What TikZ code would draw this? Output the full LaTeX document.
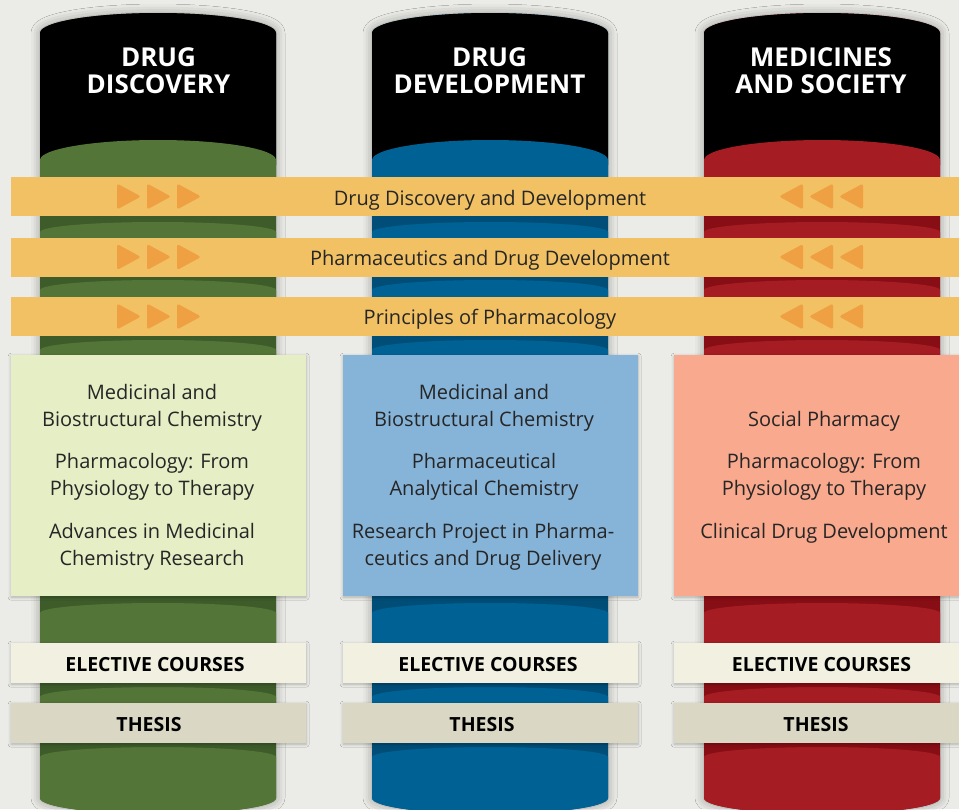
\documentclass[tikz,border=0pt]{standalone}
\usepackage{fontspec}
\setmainfont{Open Sans}
\usetikzlibrary{shadows.blur}
\definecolor{bgC}{HTML}{EBEBE7}
\definecolor{gL}{HTML}{547538}
\definecolor{gD}{HTML}{3E5C2A}
\definecolor{bL}{HTML}{006294}
\definecolor{bD}{HTML}{004E77}
\definecolor{rL}{HTML}{A61C23}
\definecolor{rD}{HTML}{880E15}
\definecolor{bandC}{HTML}{F2C163}
\definecolor{triC}{HTML}{EFA043}
\definecolor{boxG}{HTML}{E5EEC5}
\definecolor{boxB}{HTML}{86B3D8}
\definecolor{boxR}{HTML}{F9A98D}
\definecolor{elecC}{HTML}{F2F0E0}
\definecolor{thesC}{HTML}{DAD8C4}
\tikzset{
  headtxt/.style={font=\fontsize{26}{30}\selectfont\bfseries, text=white, anchor=base, inner sep=0pt},
  bandbox/.style={fill=bandC, anchor=north west, minimum width=948pt, minimum height=39pt, inner sep=0pt, draw=none},
  bandtxt/.style={font=\fontsize{20}{24}\selectfont, text=black!85, anchor=base, inner sep=0pt},
  coursebox/.style={anchor=north west, minimum height=241pt, inner sep=0pt, draw=none,
     blur shadow={shadow xshift=0pt, shadow yshift=-1pt, shadow blur radius=3pt, shadow opacity=25}},
  coursetxt/.style={font=\fontsize{20}{24}\selectfont, text=black!85, anchor=base, inner sep=0pt},
  smallbox/.style={anchor=north west, minimum height=40pt, inner sep=0pt, draw=none,
     blur shadow={shadow xshift=0pt, shadow yshift=-1pt, shadow blur radius=3pt, shadow opacity=25}},
  smalltxt/.style={font=\fontsize{19.5}{23}\selectfont\bfseries, text=black, anchor=base, inner sep=0pt},
  tri/.style={fill=triC, rounded corners=2.5pt}
}
\begin{document}
\begin{tikzpicture}[x=1pt, y=-1pt]
\useasboundingbox (0,0) rectangle (959,809);
\fill[bgC] (0,0) rectangle (959,809);
% columns
\foreach \L/\lt/\dk in {40/gL/gD, 372/bL/bD, 704/rL/rD}{
  \pgfmathsetmacro\R{\L+236}
  \fill[\dk, blur shadow={shadow xshift=0pt, shadow yshift=0pt, shadow blur radius=9pt, shadow opacity=35}]
     (\L,33) arc[start angle=180, end angle=360, x radius=118, y radius=20]
     -- (\R,798) arc[start angle=0, end angle=180, x radius=118, y radius=16] -- cycle;
  \fill[black] (\L,33) arc[start angle=180, end angle=360, x radius=118, y radius=20]
     -- (\R,165) -- (\L,165) -- cycle;
  \fill[\lt] (\L,160) arc[start angle=180, end angle=360, x radius=118, y radius=20]
     -- (\R,180) -- (\L,180) -- cycle;
  \foreach \ys/\ye in {232/240, 290/298, 350/358, 613/645, 697/705}{
    \fill[\lt] (\L,\ys) arc[start angle=180, end angle=360, x radius=118, y radius=10]
       -- (\R,\ye) -- (\L,\ye) -- cycle;
  }
  \fill[\lt] (\L,757) arc[start angle=180, end angle=360, x radius=118, y radius=10]
     -- (\R,798) arc[start angle=0, end angle=180, x radius=118, y radius=16] -- cycle;
}
% headings
\node[headtxt] (h1a) at (158.5,66) {DRUG};
\node[headtxt] (h1b) at (158.5,93) {DISCOVERY};
\node[headtxt] (h2a) at (489.5,66) {DRUG};
\node[headtxt] (h2b) at (489.5,93) {DEVELOPMENT};
\node[headtxt] (h3a) at (821,66) {MEDICINES};
\node[headtxt] (h3b) at (821,93) {AND SOCIETY};
% bands
\node[bandbox] (b1) at (11,177) {};
\node[bandbox] (b2) at (11,237.5) {};
\node[bandbox] (b3) at (11,296.5) {};
\node[bandtxt] (b1t) at (490,205) {Drug Discovery and Development};
\node[bandtxt] (b2t) at (490,265) {Pharmaceutics and Drug Development};
\node[bandtxt] (b3t) at (490,324.5) {Principles of Pharmacology};
\foreach \yc in {196.5,257,316.5}{
  \foreach \k in {0,1,2}{
    \fill[tri] ({117+30*\k},{\yc-13}) -- ({141+30*\k},\yc) -- ({117+30*\k},{\yc+13}) -- cycle;
    \fill[tri] ({803+30*\k},{\yc-13}) -- ({779+30*\k},\yc) -- ({803+30*\k},{\yc+13}) -- cycle;
  }
}
% course boxes
\node[coursebox, fill=boxG, minimum width=295pt] (c1) at (11,355) {};
\node[coursebox, fill=boxB, minimum width=295pt] (c2) at (343,355) {};
\node[coursebox, fill=boxR, minimum width=285pt] (c3) at (674,355) {};
\node[coursetxt] (c1a) at (152,399) {Medicinal and};
\node[coursetxt] (c1b) at (152,426) {Biostructural Chemistry};
\node[coursetxt] (c1c) at (152,468) {Pharmacology: From};
\node[coursetxt] (c1d) at (152,495) {Physiology to Therapy};
\node[coursetxt] (c1e) at (152,538) {Advances in Medicinal};
\node[coursetxt] (c1f) at (152,565) {Chemistry Research};
\node[coursetxt] (c2a) at (484,399) {Medicinal and};
\node[coursetxt] (c2b) at (484,426) {Biostructural Chemistry};
\node[coursetxt] (c2c) at (484,468) {Pharmaceutical};
\node[coursetxt] (c2d) at (484,495) {Analytical Chemistry};
\node[coursetxt] (c2e) at (483,538) {Research Project in Pharma-};
\node[coursetxt] (c2f) at (483,565) {ceutics and Drug Delivery};
\node[coursetxt] (c3a) at (824,426) {Social Pharmacy};
\node[coursetxt] (c3b) at (824,468) {Pharmacology: From};
\node[coursetxt] (c3c) at (824,495) {Physiology to Therapy};
\node[coursetxt] (c3d) at (824,538) {Clinical Drug Development};
% elective and thesis
\node[smallbox, fill=elecC, minimum width=295pt] (e1) at (11,643) {};
\node[smallbox, fill=elecC, minimum width=295pt] (e2) at (343,643) {};
\node[smallbox, fill=elecC, minimum width=285pt] (e3) at (674,643) {};
\node[smallbox, fill=thesC, minimum width=295pt] (t1) at (11,703) {};
\node[smallbox, fill=thesC, minimum width=295pt] (t2) at (343,703) {};
\node[smallbox, fill=thesC, minimum width=285pt] (t3) at (674,703) {};
\node[smalltxt] (e1t) at (155,671) {ELECTIVE COURSES};
\node[smalltxt] (e2t) at (488,671) {ELECTIVE COURSES};
\node[smalltxt] (e3t) at (821.5,671) {ELECTIVE COURSES};
\node[smalltxt] (t1t) at (149,731) {THESIS};
\node[smalltxt] (t2t) at (482,731) {THESIS};
\node[smalltxt] (t3t) at (816,731) {THESIS};
\end{tikzpicture}
\end{document}
